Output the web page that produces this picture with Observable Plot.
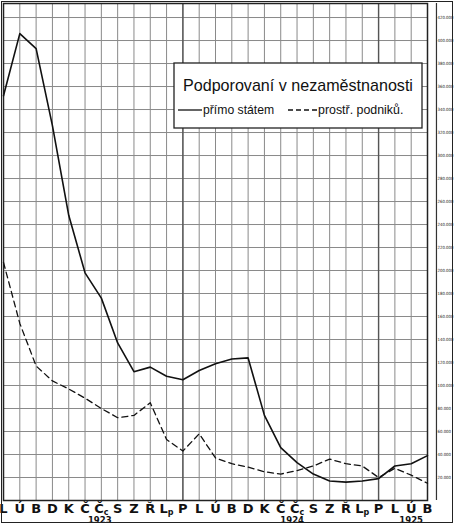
<!DOCTYPE html>
<html>
<head>
<meta charset="utf-8">
<script src="https://cdn.jsdelivr.net/npm/d3@7"></script>
<script src="https://cdn.jsdelivr.net/npm/@observablehq/plot@0.6"></script>
<style>
  html, body { margin: 0; padding: 0; background: #fff; }
  #wrap { position: relative; width: 454px; height: 524px; }
  #wrap svg { position: absolute; left: 0; top: 0; }
  #outer { position: absolute; left: 1px; top: 1px; width: 450px; height: 520px; border: 1.5px solid #222; pointer-events: none; }
</style>
</head>
<body>
<div id="wrap"><div id="outer"></div></div>
<script>
// Months (Czech initials), Jan 1923 – Mar 1925
const months = ["L","Ú","B","D","K","Č","Čc","S","Z","Ř","Lp","P",
                "L","Ú","B","D","K","Č","Čc","S","Z","Ř","Lp","P",
                "L","Ú","B"];
// Supported unemployed, thousands
const directState = [352,406,393,326,248,198,176,137,112,116,108,105,
                     113,119,123,124,74,46,33,23,17,16,17,19,
                     30,32,39];
const viaEmployers = [207,154,117,104,97,89,80,72,74,85,53,43,
                      58,37,32,29,25,23,26,30,36,32,30,20,
                      28,22,15];
const yearLabels = ["1923","1924","1925"];
const yearPos = [5.9, 17.7, 25];
const yTicks = d3.range(20, 421, 20);
const titleText = "Podporovaní v nezaměstnanosti";
const legendSolid = "přímo státem";
const legendDashed = "prostř. podniků.";

const data = months.map((m, i) => ({i, m, direct: directState[i], employers: viaEmployers[i]}));
const idx = d3.range(months.length);

const chart = Plot.plot({
  width: 454,
  height: 524,
  marginLeft: 3,
  marginRight: 27,
  marginTop: 3,
  marginBottom: 24,
  style: {fontFamily: "DejaVu Sans", background: "#fff"},
  x: {domain: [0, 26]},
  y: {domain: [0, 432.2]},
  marks: [
    Plot.ruleX(idx, {stroke: "#8a8a8a", strokeWidth: 1}),
    Plot.ruleY(yTicks, {stroke: "#8a8a8a", strokeWidth: 1}),
    Plot.ruleX([11, 23], {stroke: "#555", strokeWidth: 1.4}),
    Plot.ruleX([26.55], {stroke: "#333", strokeWidth: 1.2, clip: false}),
    Plot.frame({stroke: "#222", strokeWidth: 1.5}),
    Plot.line(data, {x: "i", y: "direct", stroke: "#111", strokeWidth: 1.6}),
    Plot.line(data, {x: "i", y: "employers", stroke: "#111", strokeWidth: 1.3, strokeDasharray: "6,4"}),
    Plot.axisX(idx, {tickSize: 0, tickPadding: 3, tickFormat: i => months[i], fontSize: 13, fontWeight: "bold", fill: "#111", label: null}),
    Plot.axisY(yTicks, {anchor: "right", tickSize: 0, tickPadding: 10, tickFormat: d => d + ".000", fontSize: 4.3, fontFamily: "Liberation Sans Narrow, DejaVu Sans Condensed, sans-serif", fill: "#222", label: null}),
    Plot.text(yearLabels, {x: (d, i) => yearPos[i], frameAnchor: "bottom", dy: 20, lineAnchor: "middle", fontSize: 8.5, fontWeight: "bold", fill: "#111"})
  ]
});

document.getElementById("wrap").prepend(chart);

// subscript letters in "Lp" and "Čc"
d3.select(chart).selectAll('g[aria-label="x-axis tick label"] text').each(function() {
  const t = this.textContent;
  if (t === "Lp" || t === "Čc") {
    const s = d3.select(this);
    s.text(t[0]);
    s.append("tspan").attr("font-size", 8).attr("dy", 2).text(t[1]);
  }
});

// legend box
const svg = d3.select(chart);
const g = svg.append("g").attr("font-family", "Liberation Sans, Arial, sans-serif").attr("text-anchor", "start");
g.append("rect").attr("x", 174).attr("y", 63).attr("width", 248).attr("height", 65)
  .attr("fill", "#fff").attr("stroke", "#222").attr("stroke-width", 1.3);
g.append("text").attr("x", 183).attr("y", 91).attr("font-size", 16.1).attr("fill", "#111").text(titleText);
g.append("line").attr("x1", 178).attr("x2", 202).attr("y1", 110).attr("y2", 110).attr("stroke", "#111").attr("stroke-width", 1.3);
g.append("text").attr("x", 203).attr("y", 114).attr("font-size", 12.2).attr("fill", "#111").text(legendSolid);
g.append("line").attr("x1", 288).attr("x2", 317).attr("y1", 110).attr("y2", 110).attr("stroke", "#111").attr("stroke-width", 1.3).attr("stroke-dasharray", "5,3");
g.append("text").attr("x", 318).attr("y", 114).attr("font-size", 12.4).attr("fill", "#111").text(legendDashed);
</script>
</body>
</html>
